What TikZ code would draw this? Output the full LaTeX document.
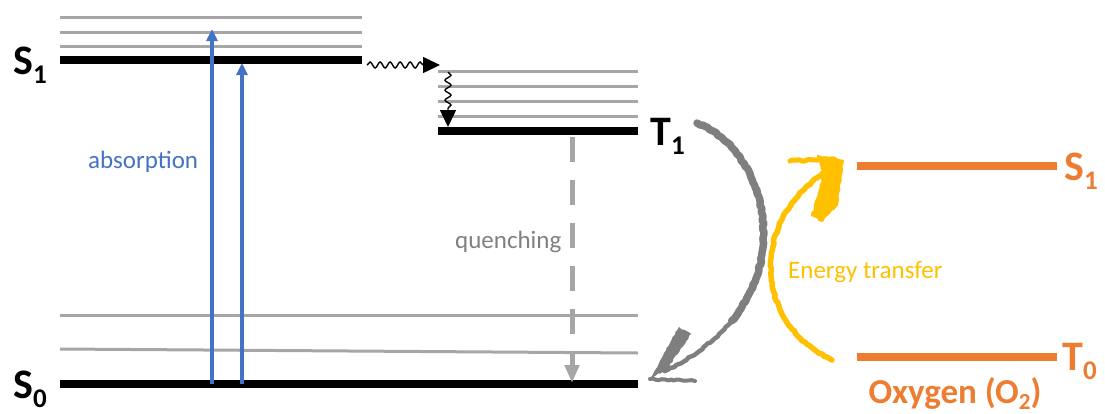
\documentclass[tikz,border=0pt]{standalone}
\usepackage{fontspec}
\setmainfont{Carlito}
\usetikzlibrary{arrows.meta,decorations.pathmorphing,positioning}
\definecolor{absblue}{HTML}{4472C4}
\definecolor{lvlgray}{HTML}{A6A6A6}
\definecolor{txtgray}{HTML}{808080}
\definecolor{curvegray}{HTML}{7F7F7F}
\definecolor{oxorange}{HTML}{ED7D31}
\definecolor{etyellow}{HTML}{FFC000}

% state name with a lowered index
\newcommand{\statelabel}[2]{#1\raisebox{-9pt}{\fontsize{27}{27}\selectfont #2}}

\begin{document}
\begin{tikzpicture}[x=1pt,y=-1pt,
  level/.style={line width=8pt},
  sublevel/.style={line width=3pt,lvlgray},
  oxlevel/.style={line width=8pt,oxorange},
  statename/.style={font=\fontsize{42}{42}\selectfont\bfseries,inner sep=0pt,anchor=base west},
  caption/.style={font=\fontsize{25}{30}\selectfont,inner sep=0pt,anchor=base west},
  absorb/.style={absblue,line width=3.5pt,-{Triangle[length=12pt,width=11pt]}},
  relax/.style={line width=1.4pt,decorate,
    decoration={snake,amplitude=3pt,segment length=10pt,post length=16pt},
    -{Triangle[length=17pt,width=16pt]}},
  quench/.style={lvlgray,line width=5pt,dash pattern=on 25pt off 18pt,
    -{Triangle[length=18pt,width=14pt]}},
  sketch/.style={line cap=round,line join=round,decorate,
    decoration={random steps,segment length=3pt,amplitude=0.8pt}}]
\useasboundingbox (0,0) rectangle (1105,413);
\pgfmathsetseed{7}

% S1 with its vibrational levels
\foreach \y in {17,32,46}
  \draw[sublevel] (60,\y) -- (362,\y);
\draw[level] (60,60) -- (362,60);
% T1
\foreach \y in {71,86,101,116}
  \draw[sublevel] (438,\y) -- (638,\y);
\draw[level] (438,131) -- (638,131);
% S0
\draw[sublevel] (60,315) -- (638,315);
\draw[sublevel] (60,349) -- (638,353);
\draw[level] (60,384) -- (638,384);
% oxygen levels
\draw[oxlevel] (857,166) -- (1057,166);
\draw[oxlevel] (857,357) -- (1057,357);

% level names
\node[statename] (S1) at (13,74) {\statelabel{S}{1}};
\node[statename] (T1) at (650,145) {\statelabel{T}{1}};
\node[statename] (S0) at (13,398) {\statelabel{S}{0}};
\node[statename,oxorange] (oxS1) at (1064,180) {\statelabel{S}{1}};
\node[statename,oxorange] (oxT0) at (1062,370) {\statelabel{T}{0}};
\node[font=\fontsize{35}{35}\selectfont\bfseries,oxorange,inner sep=0pt,anchor=base]
  (oxygen) at (955,403) {Oxygen (O\raisebox{-6pt}{\fontsize{23}{23}\selectfont 2})};

% absorption
\coordinate (abs1 from) at (212,384);
\coordinate (abs1 to) at (212,29);
\coordinate (abs2 from) at (242,384);
\coordinate (abs2 to) at (242,63);
\draw[absorb] (abs1 from) -- (abs1 to);
\draw[absorb] (abs2 from) -- (abs2 to);
\node[caption,absblue] (absorption) at (88,168) {absorption};

% crossing and relaxation
\coordinate (isc from) at (367,65);
\coordinate (isc to) at (440,65);
\coordinate (vr from) at (448,72);
\coordinate (vr to) at (448,127);
\draw[relax] (isc from) -- (isc to);
\draw[relax] (vr from) -- (vr to);

% quenching
\coordinate (q from) at (572,137);
\coordinate (q to) at (572,383);
\draw[quench] (q from) -- (q to);
\node[caption,txtgray] (quenching) at (455,248) {quenching};

% hand drawn arrow T1 -> S0
\coordinate (t1 out) at (697,123);
\coordinate (s0 in) at (665,371);
\coordinate (s0 tip) at (650,379);
\draw[sketch,curvegray,line width=4.5pt] (t1 out) .. controls (770,150) and (812,300) .. (s0 in);
\draw[sketch,curvegray,line width=7.5pt] (t1 out) .. controls (755.4,144.6) and (794,244.9) .. (731.8,320.5);
\fill[sketch,curvegray] (s0 tip) -- (679,327) -- (691,334) -- (668,368) -- cycle;
\draw[sketch,curvegray,line width=4pt] (s0 tip) -- (695,381);

% hand drawn arrow T0 -> S1 of oxygen
\coordinate (t0 out) at (832,360);
\coordinate (ox in) at (825,173);
\coordinate (ox tip) at (844,160);
\draw[sketch,etyellow,line width=5.5pt] (t0 out) .. controls (748,320) and (755,215) .. (ox in);
\fill[sketch,etyellow] (817,155) -- (ox tip) -- (838,205) -- (822,222) -- (811,216) -- (823,175) -- cycle;
\draw[sketch,etyellow,line width=5pt] (790,161) -- (834,159);
\node[caption,etyellow] (transfer) at (788,278) {Energy transfer};
\end{tikzpicture}
\end{document}
